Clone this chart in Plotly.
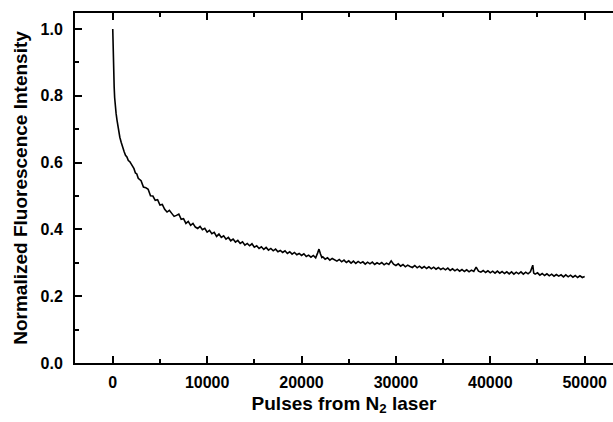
import plotly.graph_objects as go

# Pulses from N2 laser (x) and normalized fluorescence intensity (y)
pulses_early = [0, 20, 60, 100, 150, 200, 250, 350, 450, 600, 750, 900, 1050, 1200, 1350,
                1500, 1650, 1800, 1950, 2100, 2250, 2400, 2550, 2700, 2850]
intensity_early = [1.000, 0.962, 0.905, 0.862, 0.826, 0.795, 0.772, 0.748, 0.727, 0.697,
                   0.676, 0.660, 0.642, 0.633, 0.622, 0.617, 0.606, 0.603, 0.596, 0.588,
                   0.582, 0.569, 0.566, 0.553, 0.549]

pulses_mid = [3000, 3250, 3500, 3750, 4000, 4250, 4500, 4750, 5000, 5250,
              5500, 5750, 6000, 6250, 6500, 6750, 7000, 7250, 7500, 7750,
              8000, 8250, 8500, 8750, 9000, 9250, 9500, 9750, 10000, 10250,
              10500, 10750, 11000, 11250, 11500, 11750, 12000, 12250, 12500, 12750,
              13000, 13250, 13500, 13750, 14000, 14250, 14500, 14750, 15000, 15250,
              15500, 15750, 16000, 16250, 16500, 16750, 17000, 17250, 17500, 17750,
              18000, 18250, 18500, 18750, 19000, 19250, 19500, 19750, 20000, 20250,
              20500, 20750, 21000, 21250, 21500, 21700, 21850, 22000, 22150]
intensity_mid = [0.546, 0.527, 0.525, 0.520, 0.501, 0.500, 0.487, 0.489, 0.473, 0.475,
                 0.460, 0.452, 0.457, 0.448, 0.439, 0.442, 0.446, 0.430, 0.432, 0.418,
                 0.424, 0.412, 0.418, 0.407, 0.403, 0.409, 0.399, 0.403, 0.392, 0.397,
                 0.387, 0.391, 0.379, 0.386, 0.376, 0.381, 0.371, 0.376, 0.366, 0.371,
                 0.362, 0.367, 0.358, 0.363, 0.353, 0.358, 0.351, 0.357, 0.347, 0.351,
                 0.343, 0.348, 0.340, 0.346, 0.338, 0.343, 0.336, 0.341, 0.333, 0.337,
                 0.331, 0.336, 0.328, 0.333, 0.326, 0.331, 0.324, 0.328, 0.322, 0.327,
                 0.319, 0.323, 0.317, 0.322, 0.315, 0.329, 0.341, 0.327, 0.316]

pulses_late = [22250, 22500, 22750, 23000, 23250, 23500, 23750, 24000, 24250, 24500,
               24750, 25000, 25250, 25500, 25750, 26000, 26250, 26500, 26750, 27000,
               27250, 27500, 27750, 28000, 28250, 28500, 28750, 29000, 29250, 29500,
               29750, 30000, 30250, 30500, 30750, 31000, 31250, 31500, 31750, 32000,
               32250, 32500, 32750, 33000, 33250, 33500, 33750, 34000, 34250, 34500,
               34750, 35000, 35250, 35500, 35750, 36000, 36250, 36500, 36750, 37000,
               37250, 37500, 37750, 38000, 38250, 38500, 38750, 39000, 39250, 39500,
               39750, 40000, 40250, 40500, 40750, 41000, 41250, 41500, 41750, 42000,
               42250, 42500, 42750, 43000, 43250, 43500, 43750, 44000, 44250, 44500,
               44600, 44750, 45000, 45250, 45500, 45750, 46000, 46250, 46500, 46750,
               47000, 47250, 47500, 47750, 48000, 48250, 48500, 48750, 49000, 49250,
               49500, 49750, 50000]
intensity_late = [0.318, 0.311, 0.315, 0.308, 0.313, 0.309, 0.305, 0.310, 0.303, 0.308,
                  0.301, 0.306, 0.299, 0.305, 0.298, 0.304, 0.299, 0.303, 0.296, 0.302,
                  0.297, 0.302, 0.295, 0.300, 0.296, 0.301, 0.294, 0.299, 0.295, 0.306,
                  0.296, 0.292, 0.297, 0.290, 0.295, 0.288, 0.293, 0.289, 0.286, 0.292,
                  0.285, 0.290, 0.284, 0.289, 0.283, 0.288, 0.282, 0.287, 0.281, 0.286,
                  0.280, 0.284, 0.279, 0.284, 0.277, 0.282, 0.276, 0.281, 0.275, 0.280,
                  0.274, 0.279, 0.273, 0.278, 0.274, 0.287, 0.275, 0.272, 0.277, 0.271,
                  0.276, 0.270, 0.275, 0.269, 0.275, 0.269, 0.274, 0.268, 0.273, 0.267,
                  0.273, 0.266, 0.272, 0.267, 0.273, 0.266, 0.272, 0.267, 0.273, 0.293,
                  0.269, 0.266, 0.270, 0.263, 0.268, 0.262, 0.267, 0.261, 0.266, 0.260,
                  0.265, 0.260, 0.264, 0.258, 0.264, 0.258, 0.263, 0.257, 0.262, 0.256,
                  0.261, 0.256, 0.259]

pulses = pulses_early + pulses_mid + pulses_late
intensity = intensity_early + intensity_mid + intensity_late

x_tick_vals = [0, 10000, 20000, 30000, 40000, 50000]
x_tick_text = ["0", "10000", "20000", "30000", "40000", "50000"]
y_tick_vals = [0.0, 0.2, 0.4, 0.6, 0.8, 1.0]
y_tick_text = ["0.0", "0.2", "0.4", "0.6", "0.8", "1.0"]

font_family = "Liberation Sans, Arial, sans-serif"

fig = go.Figure()
fig.add_trace(go.Scatter(x=pulses, y=intensity, mode="lines",
                         line=dict(color="black", width=1.6), showlegend=False))

fig.update_layout(
    width=613, height=422,
    margin=dict(l=75, r=0, t=13, b=59),
    paper_bgcolor="white", plot_bgcolor="white",
    font=dict(family=font_family, color="black", size=16),
)
fig.update_xaxes(
    range=[-4000, 53000], showgrid=False, zeroline=False,
    showline=True, linecolor="black", linewidth=2, mirror="ticks",
    ticks="inside", ticklen=7, tickwidth=1.5, tickcolor="black",
    tickvals=x_tick_vals, ticktext=x_tick_text, ticklabelstandoff=4,
    minor=dict(dtick=5000, tick0=0, ticks="inside", ticklen=4, tickwidth=1.5, tickcolor="black"),
    tickfont=dict(size=16, family=font_family, weight="bold"),
    title=dict(text="Pulses from N<sub>2</sub> laser",
               font=dict(size=19, family=font_family, weight="bold"), standoff=6),
)
fig.update_yaxes(
    range=[0, 1.048], showgrid=False, zeroline=False,
    showline=True, linecolor="black", linewidth=2, mirror=False,
    ticks="inside", ticklen=7, tickwidth=1.5, tickcolor="black",
    tickvals=y_tick_vals, ticktext=y_tick_text, ticklabelstandoff=7,
    minor=dict(dtick=0.1, tick0=0, ticks="inside", ticklen=4, tickwidth=1.5, tickcolor="black"),
    tickfont=dict(size=16, family=font_family, weight="bold"),
    title=dict(text="Normalized Fluorescence Intensity",
               font=dict(size=19, family=font_family, weight="bold"), standoff=8),
)

fig.write_html("out.html")
